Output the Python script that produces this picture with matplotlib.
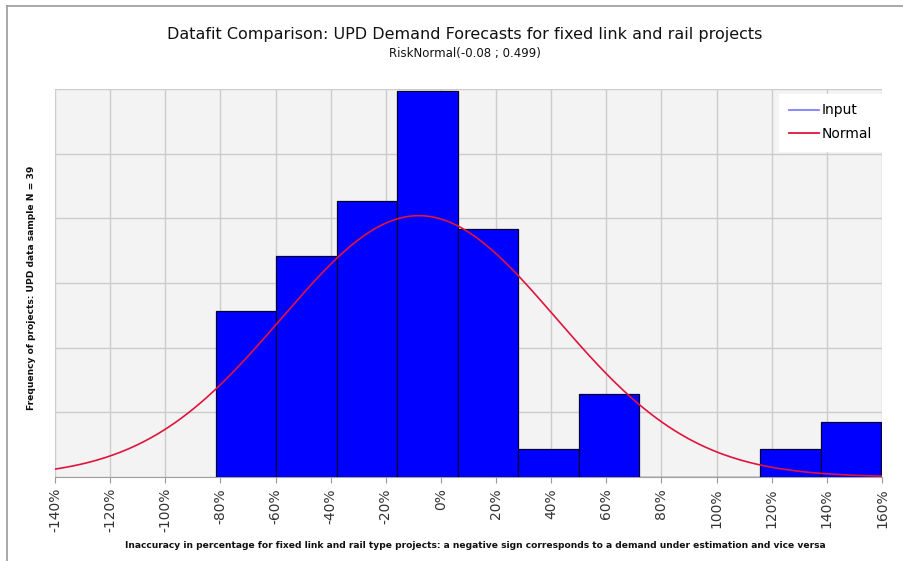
import numpy as np
import matplotlib
matplotlib.use("Agg")
import matplotlib.pyplot as plt
from matplotlib.lines import Line2D

# Data
bin_edges = [-0.816, -0.597, -0.377, -0.158, 0.061, 0.281, 0.500, 0.719, 0.939, 1.158, 1.377, 1.597]
counts = [6, 8, 10, 14, 9, 1, 3, 0, 0, 1, 2]
fit_mean = -0.08
fit_sd = 0.499
x_ticks = [-1.4, -1.2, -1.0, -0.8, -0.6, -0.4, -0.2, 0.0, 0.2, 0.4, 0.6, 0.8, 1.0, 1.2, 1.4, 1.6]
x_tick_labels = ["-140%", "-120%", "-100%", "-80%", "-60%", "-40%", "-20%", "0%",
                 "20%", "40%", "60%", "80%", "100%", "120%", "140%", "160%"]

title = "Datafit Comparison: UPD Demand Forecasts for fixed link and rail projects"
subtitle = "RiskNormal(-0.08 ; 0.499)"
xlabel = ("Inaccuracy in percentage for fixed link and rail type projects: "
          "a negative sign corresponds to a demand under estimation and vice versa")
ylabel = "Frequency of projects: UPD data sample N = 39"

plt.rcParams['font.family'] = ['DejaVu Sans']

fig = plt.figure(figsize=(9.04, 5.61), dpi=100)
fig.patch.set_facecolor("white")
ax = fig.add_axes([55 / 904, 84 / 561, 827 / 904, 388 / 561])
ax.set_facecolor("#f3f3f3")

edges = np.array(bin_edges)
widths = np.diff(edges)
ax.bar(edges[:-1], counts, width=widths, align="edge", color="#0000ff",
       edgecolor="#000033", linewidth=0.9, zorder=3)

xs = np.linspace(-1.4, 1.6, 400)
n_total = sum(counts)
bw = widths.mean()
pdf = np.exp(-0.5 * ((xs - fit_mean) / fit_sd) ** 2) / (fit_sd * np.sqrt(2 * np.pi))
ax.plot(xs, n_total * bw * pdf, color="#e0143c", linewidth=1.2, zorder=4)

ax.set_xlim(-1.4, 1.6)
ymax = 14.06
ax.set_ylim(0, ymax)
ax.set_yticks(np.linspace(0, ymax, 7))
ax.set_yticklabels([])
ax.tick_params(axis="y", length=0)
ax.set_xticks(x_ticks)
ax.set_xticklabels(x_tick_labels, rotation=90, fontsize=10, color="#333333")
ax.tick_params(axis="x", length=4, color="#999999", pad=4)
ax.grid(True, color="#cccccc", linewidth=1, zorder=0)
ax.set_axisbelow(True)
for s in ["top", "right", "left"]:
    ax.spines[s].set_visible(False)
ax.spines["bottom"].set_color("#a0a0a0")
ax.spines["bottom"].set_zorder(2)

handles = [Line2D([], [], color="#7f7fff", lw=1.3), Line2D([], [], color="#e0143c", lw=1.3)]
leg = ax.legend(handles, ["Input", "Normal"], loc="upper right", bbox_to_anchor=(1.0, 0.988),
                fontsize=10, frameon=True, fancybox=False, framealpha=1, edgecolor="white",
                handlelength=2.2, handletextpad=0.2, borderpad=0.7, labelspacing=0.7,
                borderaxespad=0)
leg.get_frame().set_facecolor("white")

fig.text(465 / 904, 1 - 34 / 561, title, ha="center", va="center", fontsize=11.5, color="#111111")
fig.text(465 / 904, 1 - 54 / 561, subtitle, ha="center", va="center", fontsize=8.5, color="#111111")
fig.text(475 / 904, 1 - 545 / 561, xlabel, ha="center", va="center", fontsize=6.6,
         fontweight="bold", color="#111111")
fig.text(32 / 904, 1 - 288 / 561, ylabel, ha="center", va="center", rotation=90,
         fontsize=6.6, fontweight="bold", color="#111111")

# outer frame lines (top and left)
fig.add_artist(Line2D([7 / 904, 1], [1 - 6 / 561, 1 - 6 / 561], transform=fig.transFigure,
                      color="#999999", lw=1.2))
fig.add_artist(Line2D([7 / 904, 7 / 904], [0, 1 - 6 / 561], transform=fig.transFigure,
                      color="#999999", lw=1.2))

fig.savefig("out.png", dpi=100)
